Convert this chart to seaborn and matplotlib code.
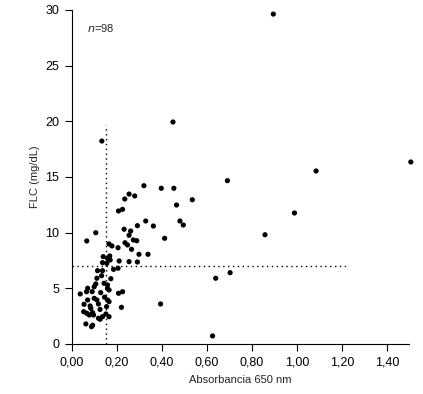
import matplotlib
matplotlib.use("Agg")
import matplotlib.pyplot as plt
import seaborn as sns
import pandas as pd

absorbance = [
    0.320, 0.397, 0.453, 0.254, 0.279, 0.235, 0.465, 0.225, 0.207, 0.328,
    0.362, 0.480, 0.291, 0.106, 0.232, 0.261, 0.254, 0.066, 0.273, 0.288,
    0.412, 0.236, 0.247, 0.165, 0.205, 0.298, 0.338, 0.139, 0.168, 0.158,
    0.170, 0.155, 0.136, 0.210, 0.254, 0.291, 0.205, 0.136, 0.114, 0.111,
    0.132, 0.173, 0.106, 0.099, 0.143, 0.158, 0.158, 0.165, 0.070, 0.065,
    0.037, 0.128, 0.207, 0.225, 0.099, 0.111, 0.070, 0.158, 0.165, 0.118,
    0.054, 0.081, 0.220, 0.394, 0.154, 0.084, 0.052, 0.066, 0.092, 0.077,
    0.096, 0.118, 0.151, 0.165, 0.136, 0.125, 0.062, 0.092, 0.087, 0.133,
    0.449, 0.895, 1.506, 1.085, 0.691, 0.535, 0.989, 0.858, 0.639, 0.703,
    0.625, 0.495, 0.090, 0.145, 0.185, 0.125, 0.178, 0.265,
]
flc = [
    14.21, 13.98, 13.98, 13.46, 13.29, 13.02, 12.48, 12.09, 11.94, 11.04,
    10.59, 11.04, 10.62, 9.99, 10.30, 10.14, 9.76, 9.25, 9.34, 9.27,
    9.49, 9.09, 8.89, 8.98, 8.64, 8.05, 8.05, 7.84, 7.90, 7.69,
    7.54, 7.24, 7.30, 7.45, 7.39, 7.36, 6.80, 6.58, 6.58, 5.90,
    6.13, 5.86, 5.39, 5.14, 5.45, 5.30, 5.00, 4.85, 5.00, 4.69,
    4.49, 4.61, 4.55, 4.69, 4.10, 3.95, 3.95, 3.95, 3.80, 3.59,
    3.56, 3.41, 3.29, 3.59, 3.35, 3.20, 2.90, 2.76, 2.81, 2.60,
    2.60, 2.31, 2.69, 2.45, 2.45, 2.22, 1.80, 1.68, 1.55, 18.22,
    19.93, 29.62, 16.34, 15.53, 14.66, 12.95, 11.76, 9.81, 5.90, 6.40,
    0.72, 10.68, 4.70, 4.20, 6.70, 3.10, 8.80, 8.50,
]

x_ticks = [0.0, 0.2, 0.4, 0.6, 0.8, 1.0, 1.2, 1.4]
y_ticks = [0, 5, 10, 15, 20, 25, 30]
cutoff_x = 0.15
cutoff_x_top = 19.7
cutoff_y = 7.0
cutoff_y_end = 1.22

df = pd.DataFrame({"abs": absorbance, "flc": flc})

sns.set_style("ticks")
plt.rcParams["font.family"] = ["Liberation Sans", "DejaVu Sans"]

fig = plt.figure(figsize=(4.23, 3.94), dpi=100)
ax = fig.add_axes([0.170, 0.127, 0.798, 0.848])

sns.scatterplot(data=df, x="abs", y="flc", ax=ax, color="black", s=14,
                edgecolor="none", linewidth=0, clip_on=False, zorder=3)

ax.plot([cutoff_x, cutoff_x], [0, cutoff_x_top], color="black", lw=1.0,
        ls=(0, (1, 2.5)), zorder=2)
ax.plot([0, cutoff_y_end], [cutoff_y, cutoff_y], color="black", lw=1.0,
        ls=(0, (1, 2.5)), zorder=2)

ax.set_xlim(0, 1.5)
ax.set_ylim(0, 30)
ax.set_xticks(x_ticks)
ax.set_xticklabels([f"{v:.2f}".replace(".", ",") for v in x_ticks])
ax.set_yticks(y_ticks)
ax.set_yticklabels([str(v) for v in y_ticks])
ax.tick_params(axis="both", direction="out", length=5, width=0.8,
               labelsize=9, color="black", labelcolor="black", pad=4)

for side in ["top", "right"]:
    ax.spines[side].set_visible(False)
for side in ["left", "bottom"]:
    ax.spines[side].set_color("black")
    ax.spines[side].set_linewidth(0.8)

ax.set_xlabel("Absorbancia 650 nm", fontsize=8, labelpad=5)
ax.set_ylabel("FLC (mg/dL)", fontsize=8, labelpad=4)

ax.text(0.066, 28.4, "$n$=98", fontsize=8, ha="left", va="center")

fig.savefig("out.png", dpi=100)
